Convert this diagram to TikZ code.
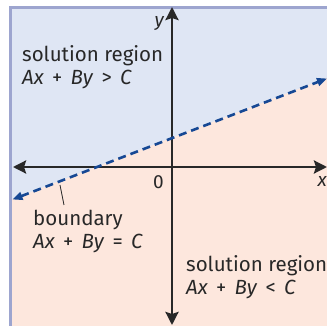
\documentclass[tikz,border=0pt]{standalone}
\usepackage{fontspec}
\setmainfont{Fira Sans}
\usetikzlibrary{arrows.meta}
\definecolor{framelav}{RGB}{157,165,207}
\definecolor{regionblue}{RGB}{223,230,244}
\definecolor{regionpink}{RGB}{253,231,221}
\definecolor{lineblue}{RGB}{22,72,148}
\definecolor{inkgray}{RGB}{40,40,40}
\newcommand{\gp}{\hspace{0.4em}}

\begin{document}
\begin{tikzpicture}[x=1pt, y=-1pt,
    axis/.style={{Stealth[length=13pt,width=13pt,inset=2pt]}-{Stealth[length=13pt,width=13pt,inset=2pt]},
                 line width=2.6pt, draw=inkgray},
    bound/.style={{Triangle[length=10pt,width=8pt]}-{Triangle[length=10pt,width=8pt]},
                  line width=2.6pt, draw=lineblue, dash pattern=on 8pt off 5pt},
    lbl/.style={font=\fontsize{20.5}{23}\selectfont, align=left, anchor=north west,
                inner sep=0pt, text=inkgray},
    axlbl/.style={font=\fontsize{19}{20}\selectfont\itshape, inner sep=0pt, text=inkgray}
]
\useasboundingbox (0,0) rectangle (327,326);

% Regions
\fill[regionblue] (11,7) rectangle (327,326);
\fill[regionpink] (11,199.8) -- (327,78) -- (327,326) -- (11,326) -- cycle;
\draw[framelav, line width=3pt] (10.8,326) -- (10.8,7.2) -- (327,7.2);

% Axes
\coordinate (xl) at (13,167);
\coordinate (xr) at (327,167);
\coordinate (yt) at (172,7);
\coordinate (yb) at (172,325);
\draw[axis] (xl) -- (xr);
\draw[axis] (yb) -- (yt);

% Boundary
\coordinate (bl) at (12.5,199.5);
\coordinate (br) at (327,78.5);
\draw[bound] (bl) -- (br);

% Labels
\node[axlbl, anchor=base east] (ylab) at (164,27) {y};
\node[axlbl, anchor=base east] (xlab) at (327,187) {x};
\node[axlbl, anchor=base east, font=\fontsize{19}{20}\selectfont] (orig) at (164,189) {0};

\node[lbl] (above) at (22,45) {solution region\\\textit{Ax}\gp+\gp\textit{By}\gp>\gp\textit{C}};
\node[lbl] (bdry) at (33,210) {boundary\\\textit{Ax}\gp+\gp\textit{By}\gp=\gp\textit{C}};
\node[lbl] (below) at (186,255) {solution region\\\textit{Ax}\gp+\gp\textit{By}\gp<\gp\textit{C}};

% Pointer
\coordinate (bpt) at (60,185);
\coordinate (bend) at (64,205);
\draw[inkgray, line width=0.8pt] (bpt) -- (bend);

\end{tikzpicture}
\end{document}
